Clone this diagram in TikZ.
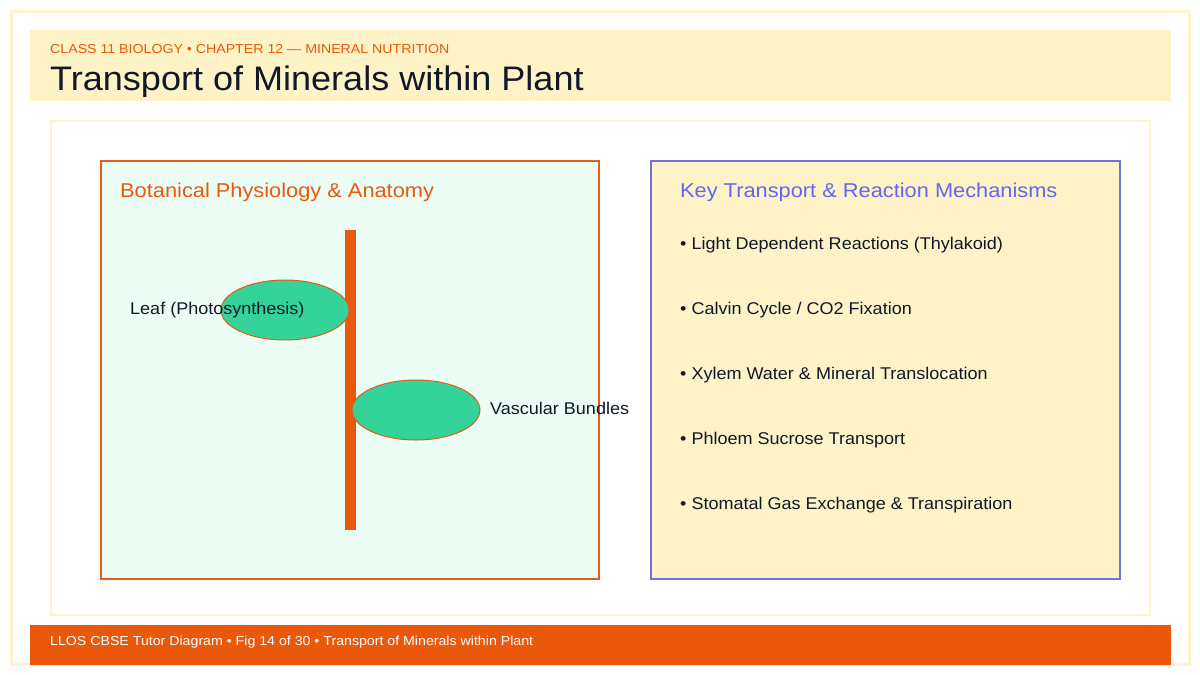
\documentclass[tikz,border=0pt]{standalone}
\usepackage{fontspec}
\setmainfont{Liberation Sans}
\newfontfamily\wideA[FakeStretch=1.06]{Liberation Sans}
\newfontfamily\wideB[FakeStretch=1.09]{Liberation Sans}
\usetikzlibrary{shapes.geometric}
\definecolor{frameY}{HTML}{FDF3CF}
\definecolor{bandY}{HTML}{FEF3C7}
\definecolor{orng}{HTML}{EA580C}
\definecolor{orngline}{HTML}{E05D1C}
\definecolor{mint}{HTML}{ECFDF5}
\definecolor{leafG}{HTML}{34D399}
\definecolor{indg}{HTML}{6366F1}
\definecolor{indgline}{HTML}{7072D8}
\definecolor{ink}{HTML}{111827}
\tikzset{
  txt/.style={anchor=base west, inner sep=0pt, text=ink, font=\wideA\fontsize{17}{20}\selectfont},
  ptitle/.style={anchor=base west, inner sep=0pt, font=\wideB\fontsize{20}{24}\selectfont},
  small/.style={anchor=base west, inner sep=0pt, font=\wideB\fontsize{13}{15}\selectfont},
  leaf/.style={ellipse, draw=orngline, line width=1pt, fill=leafG, minimum width=128pt, minimum height=60pt, inner sep=0pt},
}
\begin{document}
\begin{tikzpicture}[x=1pt,y=-1pt]
\useasboundingbox (0,0) rectangle (1200,675);
\fill[white] (0,0) rectangle (1200,675);
% outer frame
\draw[frameY, line width=3pt] (11,11) rectangle (1189,664);
% header band
\fill[bandY] (30,30) rectangle (1171,101);
\node[small, text=orng] (sub) at (50,53) {CLASS 11 BIOLOGY • CHAPTER 12 — MINERAL NUTRITION};
\node[anchor=base west, inner sep=0pt, text=ink, font=\wideA\fontsize{34}{40}\selectfont] (title) at (50,90) {Transport of Minerals within Plant};
% inner panel
\draw[frameY, line width=2pt, fill=white] (51,121) rectangle (1150,615);
% left box
\draw[orngline, line width=2.5pt, fill=mint] (101,161) rectangle (599,579);
\node[ptitle, text=orng] (ltitle) at (120,197) {Botanical Physiology \& Anatomy};
\fill[orng] (345,230) rectangle (356,530);
\node[leaf] (leaf1) at (285,310) {};
\node[leaf] (leaf2) at (416,410) {};
\node[txt] (l1) at (130,314) {Leaf (Photosynthesis)};
\node[txt] (l2) at (490,414) {Vascular Bundles};
% right box
\draw[indgline, line width=1.8pt, fill=bandY] (651,161) rectangle (1120,579);
\node[ptitle, text=indg] (rtitle) at (680,197) {Key Transport \& Reaction Mechanisms};
\node[txt] (b1) at (680,249) {• Light Dependent Reactions (Thylakoid)};
\node[txt] (b2) at (680,314) {• Calvin Cycle / CO2 Fixation};
\node[txt] (b3) at (680,379) {• Xylem Water \& Mineral Translocation};
\node[txt] (b4) at (680,444) {• Phloem Sucrose Transport};
\node[txt] (b5) at (680,509) {• Stomatal Gas Exchange \& Transpiration};
% footer
\fill[orng] (30,625) rectangle (1171,665);
\node[small, text=white] (foot) at (50,645) {LLOS CBSE Tutor Diagram • Fig 14 of 30 • Transport of Minerals within Plant};
\end{tikzpicture}
\end{document}
